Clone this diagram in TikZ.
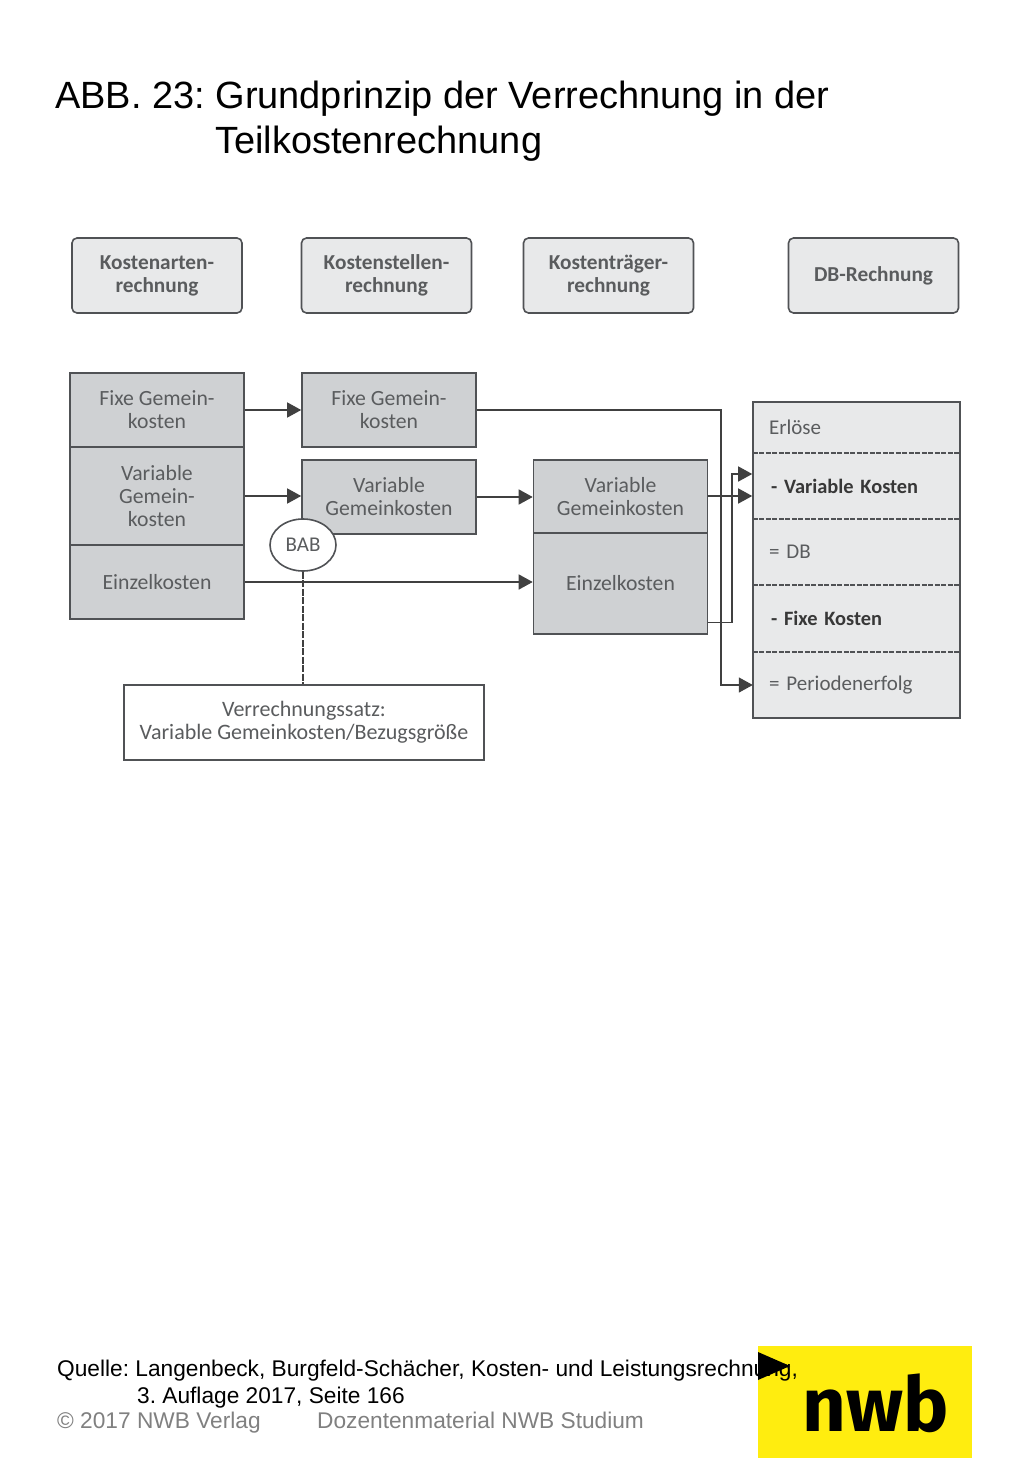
\documentclass[tikz,border=0pt]{standalone}
\usepackage{fontspec}
\setmainfont{Liberation Sans}
\newfontfamily\bodyf{Carlito}
\newfontfamily\logof{Fira Sans}
\usetikzlibrary{arrows.meta,shapes.geometric,calc}
\definecolor{darkg}{HTML}{5A5C5E}
\definecolor{edge}{HTML}{505255}
\definecolor{midf}{HTML}{CFD1D3}
\definecolor{lightf}{HTML}{E8E9EA}
\definecolor{logoy}{HTML}{FFED0F}
\frenchspacing
\tikzset{
  x=1pt,y=-1pt,
  lab/.style={font=\bodyf\fontsize{21.7}{23}\selectfont,text=darkg,align=center},
  headbox/.style={lab,draw=edge,fill=lightf,line width=1.6pt,rounded corners=5pt,minimum width=170pt,minimum height=75pt,inner sep=0pt,font=\bodyf\bfseries\fontsize{21.3}{23}\selectfont},
  cell/.style={lab,draw=edge,fill=midf,line width=1.6pt,minimum width=174pt,inner sep=0pt},
  row/.style={font=\bodyf\fontsize{21}{23}\selectfont,text=darkg,align=left,text width=175pt,inner xsep=16pt,inner ysep=0pt,minimum width=207pt},
  boldrow/.style={row,font=\bodyf\bfseries\fontsize{20.4}{23}\selectfont,text=black!78},
  conn/.style={draw=black!75,line width=1.4pt},
  arr/.style={conn,-{Triangle[length=14pt,width=15pt]}},
  titletxt/.style={font=\fontsize{37.95}{45}\selectfont,text=black,inner sep=0pt,anchor=base west},
  foot/.style={font=\fontsize{22.7}{27}\selectfont,inner sep=0pt,anchor=base west},
}
\begin{document}
\begin{tikzpicture}
\useasboundingbox (0,0) rectangle (1024,1479);
\fill[white] (0,0) rectangle (1024,1479);
% title
\node[titletxt] (t1) at (55,109) {ABB. 23: Grundprinzip der Verrechnung in der};
\node[titletxt] (t2) at (215,154) {Teilkostenrechnung};
% header row
\node[headbox] (h1) at (157,275.5) {Kostenarten-\\rechnung};
\node[headbox] (h2) at (386.5,275.5) {Kostenstellen-\\rechnung};
\node[headbox] (h3) at (608.5,275.5) {Kostenträger-\\rechnung};
\node[headbox] (h4) at (873.5,275.5) {DB-Rechnung};
% left stack
\node[cell,minimum height=74pt] (lf) at (157,410) {Fixe Gemein-\\kosten};
\node[cell,minimum height=98pt] (lv) at (157,496) {Variable\\Gemein-\\kosten};
\node[cell,minimum height=74pt] (le) at (157,582) {Einzelkosten};
% middle
\node[cell,minimum height=74pt] (mf) at (389,410) {Fixe Gemein-\\kosten};
\node[cell,minimum height=74pt] (mv) at (389,497) {Variable\\Gemeinkosten};
% right stack
\node[cell,minimum height=73pt] (sv) at (620.5,496.5) {Variable\\Gemeinkosten};
\node[cell,minimum height=101pt] (se) at (620.5,583.5) {Einzelkosten};
% result column
\node[draw=edge,fill=lightf,line width=1.6pt,minimum width=207pt,minimum height=316pt,inner sep=0pt] (res) at (856.5,560) {};
\node[row,minimum height=51pt] (r1) at (856.5,427.5) {\raisebox{-1pt}{Erlöse}};
\node[boldrow,minimum height=66pt] (r2) at (856.5,486) {\raisebox{-1pt}{\hspace{2pt}- Variable Kosten}};
\node[row,minimum height=66pt] (r3) at (856.5,552) {= DB};
\node[boldrow,minimum height=67pt] (r4) at (856.5,618.5) {\raisebox{-1pt}{\hspace{2pt}- Fixe Kosten}};
\node[row,minimum height=66pt] (r5) at (856.5,685) {= Periodenerfolg};
\foreach \r in {r1,r2,r3,r4}
  \draw[edge,line width=1.5pt,dash pattern=on 5pt off 1.5pt] (\r.south west) -- (\r.south east);
% Verrechnungssatz and BAB
\node[lab,draw=edge,fill=white,line width=1.6pt,minimum width=360pt,minimum height=75pt,inner sep=0pt,font=\bodyf\fontsize{22}{23}\selectfont] (vs) at (304,722.5) {Verrechnungssatz:\\Variable Gemeinkosten/Bezugsgröße};
% connectors
\draw[arr] (lf.east) -- (mf.west);
\draw[arr] (lv.east) -- (lv.east -| mv.west);
\draw[arr] (le.east) -- (le.east -| se.west);
\draw[arr] (mv.east) -- (mv.east -| sv.west);
\coordinate (bx) at (721,410);
\coordinate (cx) at (732,474);
\draw[arr] (mf.east) -- (bx) |- (r5.west);
\draw[arr] ([yshift=0.5pt]sv.east) -- ([yshift=0.5pt]sv.east -| res.west);
\draw[arr] ([yshift=-38.7pt]se.east) -| (cx) -- (cx -| res.west);
\node[lab,ellipse,draw=edge,fill=white,line width=1.6pt,minimum width=66pt,minimum height=52pt,inner sep=0pt,font=\bodyf\fontsize{21}{23}\selectfont] (bab) at (303,545) {BAB};
\draw[conn,dash pattern=on 7pt off 1.5pt] (bab.south) -- (bab.south |- vs.north);
% footer
\node[fill=logoy,minimum width=214pt,minimum height=112pt,inner sep=0pt] (logo) at (865,1402) {};
\node[font=\logof\bfseries\fontsize{76}{76}\selectfont,text=black,inner sep=0pt] (nwb) at (875.5,1403) {nwb};
\node[foot] (q1) at (57,1376) {Quelle: Langenbeck, Burgfeld-Schächer, Kosten- und Leistungsrechnung,};
\node[foot] (q2) at (137,1403) {3. Auflage 2017, Seite 166};
\node[foot,text=black!50] (c1) at (57,1428) {© 2017 NWB Verlag};
\node[foot,text=black!50] (c2) at (317,1428) {Dozentenmaterial NWB Studium};
\fill[black] (758,1352) -- (790,1366) -- (758,1380) -- cycle;
\end{tikzpicture}
\end{document}
